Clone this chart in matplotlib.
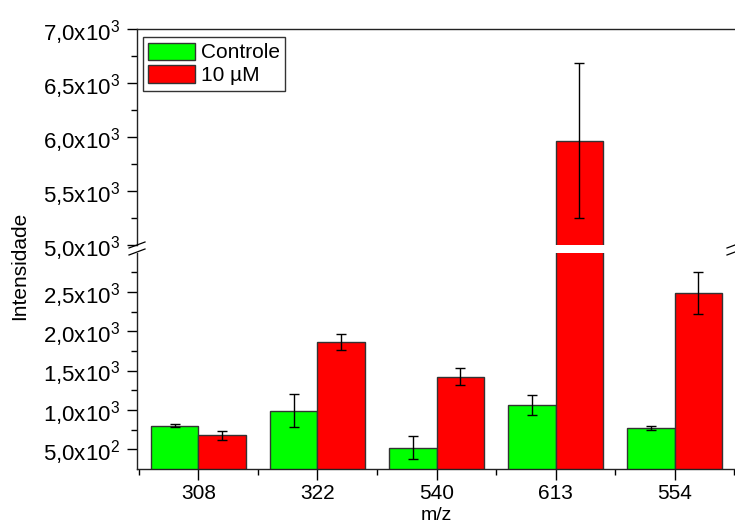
import matplotlib
matplotlib.use("Agg")
import matplotlib.pyplot as plt
import numpy as np
from matplotlib.ticker import FixedLocator, FixedFormatter, MultipleLocator
from matplotlib.lines import Line2D

plt.rcParams['font.family'] = ['Liberation Sans', 'DejaVu Sans']
plt.rcParams['mathtext.fontset'] = 'custom'
plt.rcParams['mathtext.rm'] = 'Liberation Sans'
plt.rcParams['mathtext.it'] = 'Liberation Sans'

categories = ["308", "322", "540", "613", "554"]
series_names = ["Controle", "10 µM"]
controle = [802, 988, 522, 1064, 768]
controle_err = [15, 210, 144, 125, 23]
tratado = [682, 1859, 1426, 5966, 2487]
tratado_err = [57, 102, 102, 716, 268]
colors = ["#00FF00", "#FF0000"]

upper_ticks = [5000, 5500, 6000, 6500, 7000]
upper_labels = ["5,0x10$^{3}$", "5,5x10$^{3}$", "6,0x10$^{3}$", "6,5x10$^{3}$", "7,0x10$^{3}$"]
lower_ticks = [500, 1000, 1500, 2000, 2500]
lower_labels = ["5,0x10$^{2}$", "1,0x10$^{3}$", "1,5x10$^{3}$", "2,0x10$^{3}$", "2,5x10$^{3}$"]

W, H = 735, 530
fig = plt.figure(figsize=(W / 100, H / 100), dpi=100)

x0 = 137
x1 = 736
ax_up = fig.add_axes([x0 / W, 1 - 245 / H, (x1 - x0) / W, (245 - 29) / H])
ax_lo = fig.add_axes([x0 / W, 1 - 469 / H, (x1 - x0) / W, (469 - 252.7) / H])

x = np.arange(len(categories))
bw = 0.4
for ax in (ax_up, ax_lo):
    ax.bar(x - bw / 2, controle, bw, yerr=controle_err, color=colors[0], edgecolor="#333333",
           linewidth=1.0, capsize=3.3, error_kw=dict(elinewidth=1.0, capthick=1.0, ecolor="black"),
           label=series_names[0], zorder=2)
    ax.bar(x + bw / 2, tratado, bw, yerr=tratado_err, color=colors[1], edgecolor="#333333",
           linewidth=1.0, capsize=3.3, error_kw=dict(elinewidth=1.0, capthick=1.0, ecolor="black"),
           label=series_names[1], zorder=2)
    ax.set_xlim(-0.515, 4.515)
    ax.spines['right'].set_visible(False)
    for s in ax.spines.values():
        s.set_linewidth(1.0)
        s.set_color("#222222")
    ax.tick_params(axis='y', which='major', direction='out', length=7, width=1.0, labelsize=16, pad=5)
    ax.tick_params(axis='y', which='minor', direction='out', length=4, width=1.0)

ax_up.set_ylim(5000, 7000)
ax_up.yaxis.set_major_locator(FixedLocator(upper_ticks))
ax_up.yaxis.set_major_formatter(FixedFormatter(upper_labels))
ax_up.yaxis.set_minor_locator(MultipleLocator(250))
ax_up.spines['bottom'].set_visible(False)
ax_up.tick_params(axis='x', which='both', bottom=False, labelbottom=False)

ax_lo.set_ylim(250, 3000)
ax_lo.yaxis.set_major_locator(FixedLocator(lower_ticks))
ax_lo.yaxis.set_major_formatter(FixedFormatter(lower_labels))
ax_lo.yaxis.set_minor_locator(FixedLocator([750, 1250, 1750, 2250, 2750]))
ax_lo.spines['top'].set_visible(False)
ax_lo.set_xticks(x)
ax_lo.set_xticklabels(categories)
ax_lo.xaxis.set_minor_locator(FixedLocator(np.arange(-0.5, 5.0, 1.0)))
ax_lo.tick_params(axis='x', which='major', direction='out', length=8, width=1.0, labelsize=15, pad=3)
ax_lo.tick_params(axis='x', which='minor', direction='out', length=4, width=1.0)

fig.text(436 / W, 1 - 516 / H, "m/z", fontsize=14, ha='center', va='center')
fig.text(20 / W, 1 - 266 / H, "Intensidade", rotation=90, fontsize=15, ha='center', va='center')

# break marks
def brk(xp, yp):
    for dy in (0, 7):
        fig.add_artist(Line2D([(xp - 8) / W, (xp + 8) / W],
                              [1 - (yp + dy + 3) / H, 1 - (yp + dy - 3) / H],
                              color="black", linewidth=0.9, transform=fig.transFigure))
brk(137, 245)
brk(735, 245)

leg = ax_up.legend(loc='upper left', bbox_to_anchor=((142.7 - x0) / (x1 - x0), 1 - (37.3 - 29) / 216),
                   fontsize=15, frameon=True, fancybox=False, borderpad=0.25, handlelength=2.25,
                   handleheight=0.9, handletextpad=0.28, labelspacing=0.15, borderaxespad=0)
leg.get_frame().set_edgecolor("black")
leg.get_frame().set_linewidth(1.0)

fig.savefig("out.png", dpi=100)
